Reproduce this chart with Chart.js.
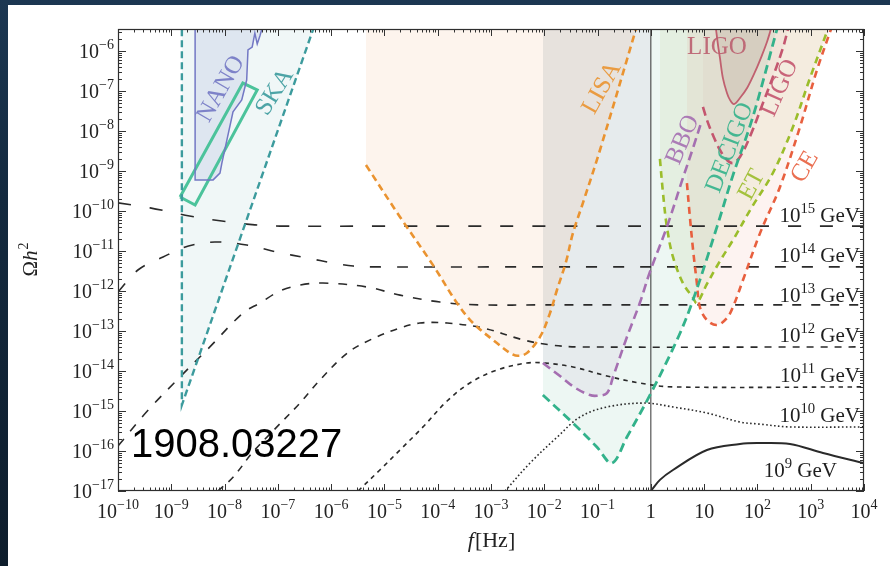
<!DOCTYPE html>
<html>
<head>
<meta charset="utf-8">
<script src="https://cdn.jsdelivr.net/npm/chart.js@4.4.0/dist/chart.umd.min.js"></script>
<style>
  html, body { margin: 0; padding: 0; }
  body {
    width: 890px; height: 566px; overflow: hidden; position: relative;
    background: linear-gradient(180deg, #1c3752 0%, #142a3f 35%, #0e1d2c 100%);
  }
  #panel { position: absolute; left: 8px; top: 5px; width: 882px; height: 561px; background: #fff; }
  canvas { display: block; }
</style>
</head>
<body>
<div id="panel"><canvas id="gw" width="882" height="561"></canvas></div>
<script>
// energy-scale curves (frequency in Hz, Omega h^2)
const gev15Freq  = [1e-10, 4.0e-10, 2.2e-9, 8.9e-9, 3.7e-8, 1.1e-7, 1e-5, 1e4];
const gev15Omega = [1.6e-10, 1.2e-10, 7.5e-11, 5.6e-11, 4.5e-11, 4.2e-11, 4.2e-11, 4.2e-11];

const gev14Freq  = [1e-10, 2.4e-10, 7.0e-10, 2.1e-9, 6.6e-9, 2.6e-8, 9.6e-8, 3.5e-7, 1.1e-6, 2.6e-6, 8.3e-6, 1e-3, 1e4];
const gev14Omega = [9.4e-13, 3.4e-12, 7.1e-12, 1.33e-11, 1.68e-11, 1.41e-11, 9.4e-12, 6.7e-12, 5.0e-12, 4.2e-12, 4.0e-12, 4.0e-12, 4.0e-12];

const gev13Freq  = [1e-10, 3.7e-10, 1.46e-9, 5.3e-9, 2.2e-8, 4.6e-8, 1.1e-7, 2.6e-7, 7.0e-7, 4.7e-6, 1.96e-5, 1.1e-4, 6.2e-4, 1e-2, 1e4];
const gev13Omega = [1.33e-16, 1.06e-15, 7.1e-15, 4.0e-14, 2.8e-13, 5.0e-13, 1.0e-12, 1.41e-12, 1.58e-12, 1.26e-12, 7.9e-13, 5.3e-13, 4.5e-13, 4.5e-13, 4.5e-13];

const gev12Freq  = [7.5e-9, 1.44e-8, 3.4e-8, 9.6e-8, 2.6e-7, 6.2e-7, 2.0e-6, 5.4e-6, 1.96e-5, 4.6e-5, 1.5e-4, 7.1e-4, 4.0e-3, 1.28e-2, 4.7e-2, 1e4];
const gev12Omega = [1e-17, 2.2e-17, 9.4e-17, 4.0e-16, 1.58e-15, 6.0e-15, 2.8e-14, 6.0e-14, 1.19e-13, 1.58e-13, 1.58e-13, 1.19e-13, 6.0e-14, 4.5e-14, 4.0e-14, 4.0e-14];

const gev11Freq  = [3.2e-6, 8.2e-6, 1.96e-5, 5.3e-5, 1.5e-4, 4.0e-4, 1.29e-3, 4.7e-3, 1.03e-2, 3.45e-2, 0.15, 0.62, 2.6, 1e4];
const gev11Omega = [1e-17, 3.35e-17, 1.06e-16, 4.0e-16, 1.78e-15, 5.0e-15, 1.06e-14, 1.58e-14, 1.58e-14, 1.26e-14, 7.5e-15, 5.0e-15, 4.0e-15, 4.0e-15];

const gev10Freq  = [1.83e-3, 5.4e-3, 1.73e-2, 4.7e-2, 0.15, 0.77, 2.6, 11.3, 47, 111, 408, 1e4];
const gev10Omega = [1e-17, 5.0e-17, 2.2e-16, 7.1e-16, 1.26e-15, 1.58e-15, 1.26e-15, 8.9e-16, 5.3e-16, 4.7e-16, 4.0e-16, 4.0e-16];

const gev9Freq  = [1, 1.48, 2.6, 11.3, 47, 98, 408, 1700, 1e4];
const gev9Omega = [1e-17, 1.9e-17, 3.35e-17, 1.06e-16, 1.5e-16, 1.58e-16, 1.5e-16, 8.9e-17, 5.0e-17];

// detector sensitivity curves
const skaFreq  = [1.58e-9, 1.58e-9, 4.6e-7];
const skaOmega = [3.5e-6, 1.41e-15, 3.5e-6];

const nanoFreq  = [2.8e-9, 2.8e-9, 6.1e-9, 8.2e-9, 8.9e-9, 1.44e-8, 2.1e-8, 2.6e-8, 2.75e-8, 3.3e-8, 3.7e-8, 4.1e-8, 4.6e-8, 5.0e-8];
const nanoOmega = [3.5e-6, 6.0e-10, 6.0e-10, 8.9e-10, 1.58e-9, 3.0e-8, 6.0e-8, 1.88e-7, 1.06e-6, 1.26e-6, 2.8e-6, 1.5e-6, 2.37e-6, 3.5e-6];

const ptaFreq  = [1.46e-9, 2.8e-9, 4.1e-8, 2.2e-8, 1.46e-9];
const ptaOmega = [2.24e-10, 1.41e-10, 1.06e-7, 1.58e-7, 2.24e-10];

const lisaFreq  = [4.5e-6, 1.96e-5, 8.1e-5, 2.3e-4, 4.6e-4, 1.29e-3, 2.3e-3, 3.2e-3, 4.7e-3, 8.3e-3, 1.28e-2, 1.73e-2, 2.55e-2, 3.45e-2, 5.3e-2, 0.111, 0.525];
const lisaOmega = [1.41e-9, 7.1e-11, 4.5e-12, 5.0e-13, 1.58e-13, 5.0e-14, 2.8e-14, 2.4e-14, 2.8e-14, 7.1e-14, 2.8e-13, 1.06e-12, 5.3e-12, 2.8e-11, 1.58e-10, 3.35e-9, 3.5e-6];

const bboFreq  = [9.4e-3, 1.97e-2, 3.8e-2, 7.2e-2, 9.7e-2, 0.15, 0.195, 0.356, 0.62, 0.96, 2.0, 4.0, 6.2, 9.1];
const bboOmega = [1.58e-14, 7.5e-15, 3.8e-15, 2.5e-15, 2.4e-15, 2.8e-15, 7.1e-15, 7.1e-14, 5.0e-13, 3.0e-12, 4.0e-11, 6.7e-10, 3.8e-9, 1.88e-8];

const decigoFreq  = [9.4e-3, 3.45e-2, 9.7e-2, 0.186, 0.356, 0.96, 3.1, 6.2, 17.4, 34.8, 82, 233];
const decigoOmega = [2.5e-15, 5.0e-16, 1.26e-16, 5.0e-17, 2.24e-16, 2.5e-15, 6.0e-14, 6.0e-13, 4.0e-11, 7.9e-10, 2.24e-8, 3.5e-6];

const etFreq  = [1.48, 1.69, 2.0, 2.6, 4.0, 6.2, 7.3, 11.3, 19.8, 34.8, 79, 195, 464, 968, 2100];
const etOmega = [2.0e-9, 2.8e-10, 4.0e-11, 7.1e-12, 1.58e-12, 6.7e-13, 5.0e-13, 1.5e-12, 5.6e-12, 1.88e-11, 1.26e-10, 8.9e-10, 1.26e-8, 2.1e-7, 3.5e-6];

const ceFreq  = [4.75, 5.4, 6.2, 7.3, 8.3, 11.3, 17.4, 26.8, 34.8, 53.6, 112, 265, 628, 1310, 2400];
const ceOmega = [5.0e-10, 7.1e-11, 1.06e-11, 1.58e-12, 4.0e-13, 1.88e-13, 1.41e-13, 2.1e-13, 4.0e-13, 1.88e-12, 2.8e-11, 4.0e-10, 1.26e-8, 3.35e-7, 3.5e-6];

const ligoFreq  = [9.5, 11.3, 14.6, 19.8, 26.8, 34.8, 47, 72, 127, 195, 301, 374];
const ligoOmega = [4.0e-8, 1.88e-8, 7.9e-9, 3.35e-9, 1.88e-9, 1.58e-9, 2.24e-9, 7.1e-9, 5.0e-8, 2.24e-7, 1.19e-6, 3.5e-6];

const ligoO2Freq  = [16.7, 18.2, 19.8, 22.5, 26.8, 30.5, 36.2, 47, 64, 90, 122, 151, 179];
const ligoO2Omega = [3.5e-6, 1.41e-6, 6.7e-7, 2.1e-7, 8.9e-8, 6.0e-8, 4.7e-8, 6.7e-8, 1.19e-7, 3.0e-7, 7.9e-7, 1.68e-6, 3.5e-6];

const oneHzFreq  = [1, 1];
const oneHzOmega = [1e-17, 3.5e-6];

// labels
const gevExponents = ['15', '14', '13', '12', '11', '10', '9'];
const gevLabelFreq  = [8400, 8400, 8400, 8400, 8400, 8400, 3100];
const gevLabelOmega = [5.3e-11, 5.3e-12, 5.3e-13, 5.3e-14, 5.3e-15, 5.3e-16, 2.24e-17];

const detNames = ['NANO', 'SKA', 'LISA', 'BBO', 'DECIGO', 'ET', 'CE', 'LIGO', 'LIGO'];
const detLabelFreq  = [8.6e-9, 8.8e-8, 0.121, 4.0, 30.5, 79, 780, 265, 17.4];
const detLabelOmega = [1.12e-7, 9.4e-8, 1.19e-7, 6.0e-9, 3.8e-9, 4.5e-10, 1.26e-9, 1.19e-7, 1.26e-6];

const C = {
  ska: '#3c9b9d', nano: '#7378c4', pta: '#4cc39b', lisa: '#ea9330', bbo: '#a56fb1',
  decigo: '#33b28b', et: '#9bbd2b', ce: '#e85f3e', ligo: '#c4566f', ink: '#2a2a2a'
};
const detColors = [C.nano, C.ska, C.lisa, C.bbo, C.decigo, C.et, C.ce, C.ligo, '#bb5f6f'];
const detAngles = [-60, -58, -61, -67, -69, -62, -60, -66, 0];

const pts = (xs, ys) => xs.map((x, i) => ({ x: x, y: ys[i] }));

function curve(label, xs, ys, opts) {
  return Object.assign({
    label: label, data: pts(xs, ys), showLine: true, pointRadius: 0,
    borderWidth: 1.6, borderColor: C.ink, fill: false, tension: 0.35,
    borderCapStyle: 'butt'
  }, opts);
}

// BBO shading only runs up to 1 Hz
const bboShade = pts(bboFreq, bboOmega).filter(p => p.x <= 1);
bboShade.push({ x: 1, y: 3.5e-6 });

const datasets = [
  curve('SKA', skaFreq, skaOmega, { borderColor: C.ska, borderWidth: 2.4, borderDash: [7, 4], tension: 0,
    fill: 'end', backgroundColor: 'rgba(60,150,150,0.08)' }),
  curve('NANO', nanoFreq, nanoOmega, { borderColor: C.nano, borderWidth: 1.5, tension: 0,
    fill: 'end', backgroundColor: 'rgba(110,115,200,0.13)' }),
  curve('PTA', ptaFreq, ptaOmega, { borderColor: C.pta, borderWidth: 3, tension: 0, borderJoinStyle: 'miter' }),
  curve('LISA', lisaFreq, lisaOmega, { borderColor: C.lisa, borderWidth: 2.6, borderDash: [7, 4.5],
    fill: 'end', backgroundColor: 'rgba(235,130,60,0.09)' }),
  { label: 'BBO band', data: bboShade, showLine: true, pointRadius: 0, borderWidth: 0, tension: 0.35,
    fill: 'end', backgroundColor: 'rgba(170,130,190,0.10)' },
  curve('BBO', bboFreq, bboOmega, { borderColor: C.bbo, borderWidth: 2.6, borderDash: [9, 5] }),
  curve('DECIGO', decigoFreq, decigoOmega, { borderColor: C.decigo, borderWidth: 2.8, borderDash: [9, 5],
    fill: 'end', backgroundColor: 'rgba(60,170,120,0.09)' }),
  curve('ET', etFreq, etOmega, { borderColor: C.et, borderWidth: 2.6, borderDash: [7, 5],
    fill: 'end', backgroundColor: 'rgba(160,170,60,0.10)' }),
  curve('CE', ceFreq, ceOmega, { borderColor: C.ce, borderWidth: 2.6, borderDash: [7, 5],
    fill: 'end', backgroundColor: 'rgba(230,100,80,0.08)' }),
  curve('LIGO', ligoFreq, ligoOmega, { borderColor: C.ligo, borderWidth: 2.6, borderDash: [9, 5],
    fill: 'end', backgroundColor: 'rgba(190,80,110,0.05)' }),
  curve('LIGO O2', ligoO2Freq, ligoO2Omega, { borderColor: '#c0606f', borderWidth: 1.8,
    fill: 'end', backgroundColor: 'rgba(140,70,70,0.13)' }),
  curve('1 Hz', oneHzFreq, oneHzOmega, { borderColor: '#333', borderWidth: 1, tension: 0 }),
  curve('1e15 GeV', gev15Freq, gev15Omega, { borderDash: [13, 19] }),
  curve('1e14 GeV', gev14Freq, gev14Omega, { borderDash: [11, 16] }),
  curve('1e13 GeV', gev13Freq, gev13Omega, { borderDash: [9, 10] }),
  curve('1e12 GeV', gev12Freq, gev12Omega, { borderDash: [7, 7] }),
  curve('1e11 GeV', gev11Freq, gev11Omega, { borderDash: [4.5, 4.5] }),
  curve('1e10 GeV', gev10Freq, gev10Omega, { borderDash: [1.6, 2.4] }),
  curve('1e9 GeV', gev9Freq, gev9Omega, { borderWidth: 2 })
];

const SERIF = '"Liberation Serif", "Times New Roman", serif';

// draws "10" with a raised exponent, plus optional trailing text
function powText(ctx, exp, tail, x, y, size, align) {
  const expSize = size * 0.7;
  const parts = [['10', size, 0]];
  if (exp !== null) parts.push([exp, expSize, -size * 0.45]);
  if (tail) parts.push([tail, size, 0]);
  const widths = parts.map(p => { ctx.font = p[1] + 'px ' + SERIF; return ctx.measureText(p[0]).width; });
  const total = widths.reduce((a, b) => a + b, 0);
  let cx = align === 'right' ? x - total : align === 'center' ? x - total / 2 : x;
  ctx.textAlign = 'left';
  ctx.textBaseline = 'alphabetic';
  parts.forEach((p, i) => {
    ctx.font = p[1] + 'px ' + SERIF;
    ctx.fillText(p[0], cx, y + p[2]);
    cx += widths[i];
  });
}

function expLabel(n) {
  return n < 0 ? '\u2212' + (-n) : String(n);
}

const decor = {
  id: 'decor',
  afterDatasetsDraw(chart) {
    const { ctx, chartArea: a, scales: { x, y } } = chart;
    ctx.save();

    // ticks on all four sides, pointing inward
    ctx.strokeStyle = '#333';
    ctx.lineWidth = 1;
    ctx.beginPath();
    for (let n = -10; n <= 4; n++) {
      for (let k = 1; k <= 9; k++) {
        const v = k * Math.pow(10, n);
        if (v > 1e4 * 1.0001) break;
        const px = Math.round(x.getPixelForValue(v)) + 0.5;
        const len = k === 1 ? 7 : 3.5;
        ctx.moveTo(px, a.bottom); ctx.lineTo(px, a.bottom - len);
        ctx.moveTo(px, a.top); ctx.lineTo(px, a.top + len);
      }
    }
    for (let n = -17; n <= -6; n++) {
      for (let k = 1; k <= 9; k++) {
        const v = k * Math.pow(10, n);
        if (v > y.max) break;
        const py = Math.round(y.getPixelForValue(v)) + 0.5;
        const len = k === 1 ? 8 : 4;
        ctx.moveTo(a.left, py); ctx.lineTo(a.left + len, py);
        ctx.moveTo(a.right, py); ctx.lineTo(a.right - len, py);
      }
    }
    ctx.stroke();

    // frame
    ctx.lineWidth = 1.2;
    ctx.strokeStyle = '#2e2e2e';
    ctx.strokeRect(a.left + 0.5, a.top + 0.5, a.right - a.left - 1, a.bottom - a.top - 1);

    // tick labels
    ctx.fillStyle = '#222';
    for (let n = -10; n <= 4; n++) {
      const px = x.getPixelForValue(Math.pow(10, n));
      const by = a.bottom + 27;
      if (n === 0) {
        ctx.font = '20px ' + SERIF; ctx.textAlign = 'center'; ctx.textBaseline = 'alphabetic';
        ctx.fillText('1', px, by);
      } else if (n === 1) {
        ctx.font = '20px ' + SERIF; ctx.textAlign = 'center'; ctx.textBaseline = 'alphabetic';
        ctx.fillText('10', px, by);
      } else {
        powText(ctx, expLabel(n), null, px, by, 20, 'center');
      }
    }
    for (let n = -17; n <= -6; n++) {
      const py = y.getPixelForValue(Math.pow(10, n));
      powText(ctx, expLabel(n), null, a.left - 4, py + 7, 20, 'right');
    }

    // axis titles
    ctx.textBaseline = 'alphabetic';
    const tx = (a.left + a.right) / 2;
    ctx.font = 'italic 22px ' + SERIF;
    const fW = ctx.measureText('f').width;
    ctx.font = '22px ' + SERIF;
    const hzW = ctx.measureText('[Hz]').width;
    let sx = tx - (fW + hzW) / 2;
    ctx.textAlign = 'left';
    ctx.font = 'italic 22px ' + SERIF;
    ctx.fillText('f', sx, a.bottom + 56);
    ctx.font = '22px ' + SERIF;
    ctx.fillText('[Hz]', sx + fW + 1, a.bottom + 56);

    ctx.save();
    ctx.translate(a.left - 88, (a.top + a.bottom) / 2);
    ctx.rotate(-Math.PI / 2);
    ctx.font = '21px ' + SERIF;
    const omW = ctx.measureText('\u03A9').width;
    ctx.font = 'italic 21px ' + SERIF;
    const hW = ctx.measureText('h').width;
    ctx.font = '14px ' + SERIF;
    const twoW = ctx.measureText('2').width;
    let ox = -(omW + hW + twoW) / 2;
    ctx.font = '21px ' + SERIF; ctx.fillText('\u03A9', ox, 7);
    ctx.font = 'italic 21px ' + SERIF; ctx.fillText('h', ox + omW, 7);
    ctx.font = '14px ' + SERIF; ctx.fillText('2', ox + omW + hW + 1, -2);
    ctx.restore();

    // energy scale labels
    ctx.fillStyle = '#1e1e1e';
    gevExponents.forEach((e, i) => {
      const px = x.getPixelForValue(gevLabelFreq[i]);
      const py = y.getPixelForValue(gevLabelOmega[i]);
      powText(ctx, e, ' GeV', px, py, 21, 'right');
    });

    // detector labels
    ctx.textAlign = 'center';
    ctx.textBaseline = 'middle';
    detNames.forEach((name, i) => {
      const px = x.getPixelForValue(detLabelFreq[i]);
      const py = y.getPixelForValue(detLabelOmega[i]);
      ctx.save();
      ctx.translate(px, py);
      ctx.rotate(detAngles[i] * Math.PI / 180);
      ctx.fillStyle = detColors[i];
      ctx.globalAlpha = 0.9;
      ctx.font = '25px ' + SERIF;
      ctx.fillText(name, 0, 0);
      ctx.restore();
    });

    // arXiv id
    ctx.fillStyle = '#000';
    ctx.textAlign = 'left';
    ctx.textBaseline = 'alphabetic';
    ctx.font = '40px "Liberation Sans", Arial, sans-serif';
    ctx.fillText('1908.03227', a.left + 13, a.bottom - 34);

    ctx.restore();
  }
};

new Chart(document.getElementById('gw'), {
  type: 'scatter',
  data: { datasets: datasets },
  options: {
    responsive: false,
    animation: false,
    layout: { padding: { left: 110, top: 24, right: 26, bottom: 75 } },
    scales: {
      x: { type: 'logarithmic', min: 1e-10, max: 1e4, display: false },
      y: { type: 'logarithmic', min: 1e-17, max: 3.55e-6, display: false }
    },
    plugins: {
      legend: { display: false },
      tooltip: { enabled: false },
      filler: { drawTime: 'beforeDatasetsDraw' }
    }
  },
  plugins: [decor]
});
</script>
</body>
</html>
